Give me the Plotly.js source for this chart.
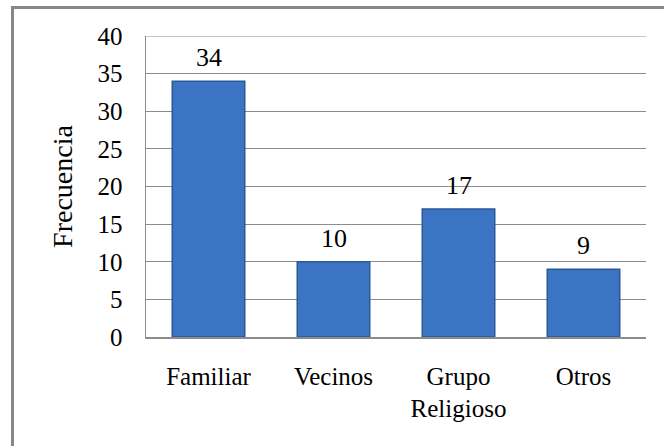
<!DOCTYPE html>
<html>
<head>
<meta charset="utf-8">
<script src="https://cdn.plot.ly/plotly-3.0.1.min.js"></script>
<style>
html,body{margin:0;padding:0;background:#fff;}
#wrap{position:relative;width:664px;height:446px;overflow:hidden;}
#chart{width:664px;height:446px;}
#frame{position:absolute;left:11px;top:6px;width:700px;height:500px;border-left:3px solid #878787;border-top:3px solid #878787;pointer-events:none;}
</style>
</head>
<body>
<div id="wrap"><div id="chart"></div><div id="frame"></div></div>
<script>
var categories = ['Familiar', 'Vecinos', 'Grupo<br>Religioso', 'Otros'];
var frecuencia = [34, 10, 17, 9];
var yTicks = [0, 5, 10, 15, 20, 25, 30, 35, 40];

var font = '"Times New Roman", "Liberation Serif", serif';

var trace = {
  type: 'bar',
  x: categories,
  y: frecuencia,
  marker: {color: '#3b74c2', line: {color: '#2a5996', width: 1.5}},
  hoverinfo: 'none'
};

var annotations = categories.map(function (c, i) {
  return {
    x: c, y: frecuencia[i], xref: 'x', yref: 'y',
    text: String(frecuencia[i]), showarrow: false,
    yanchor: 'bottom', yshift: 7,
    font: {family: font, size: 26, color: '#000'}
  };
});

var layout = {
  width: 664, height: 446,
  margin: {l: 146, r: 18, t: 36, b: 109},
  paper_bgcolor: '#fff', plot_bgcolor: '#fff',
  bargap: 0.42,
  showlegend: false,
  font: {family: font, color: '#000'},
  xaxis: {
    type: 'category',
    showline: true, linecolor: '#8c8c8c', linewidth: 1.5,
    showgrid: false, ticks: '',
    ticklabelstandoff: 16,
    tickfont: {family: font, size: 25, color: '#000'}
  },
  yaxis: {
    range: [0, 40],
    tickvals: yTicks,
    ticktext: yTicks.map(String),
    showline: true, linecolor: '#8c8c8c', linewidth: 1.5,
    showgrid: true, gridcolor: '#8c8c8c', gridwidth: 1.2,
    zeroline: false, ticks: '',
    ticklabelstandoff: 17,
    tickfont: {family: font, size: 25, color: '#000'},
    title: {text: 'Frecuencia', font: {family: font, size: 28, color: '#000'}, standoff: 16}
  },
  annotations: annotations,
  shapes: [{
    type: 'line', xref: 'paper', x0: 0, x1: 1,
    yref: 'y', y0: yTicks[yTicks.length - 1], y1: yTicks[yTicks.length - 1],
    line: {color: '#8c8c8c', width: 1.2}
  }]
};

Plotly.newPlot('chart', [trace], layout, {staticPlot: true, displayModeBar: false});
</script>
</body>
</html>
